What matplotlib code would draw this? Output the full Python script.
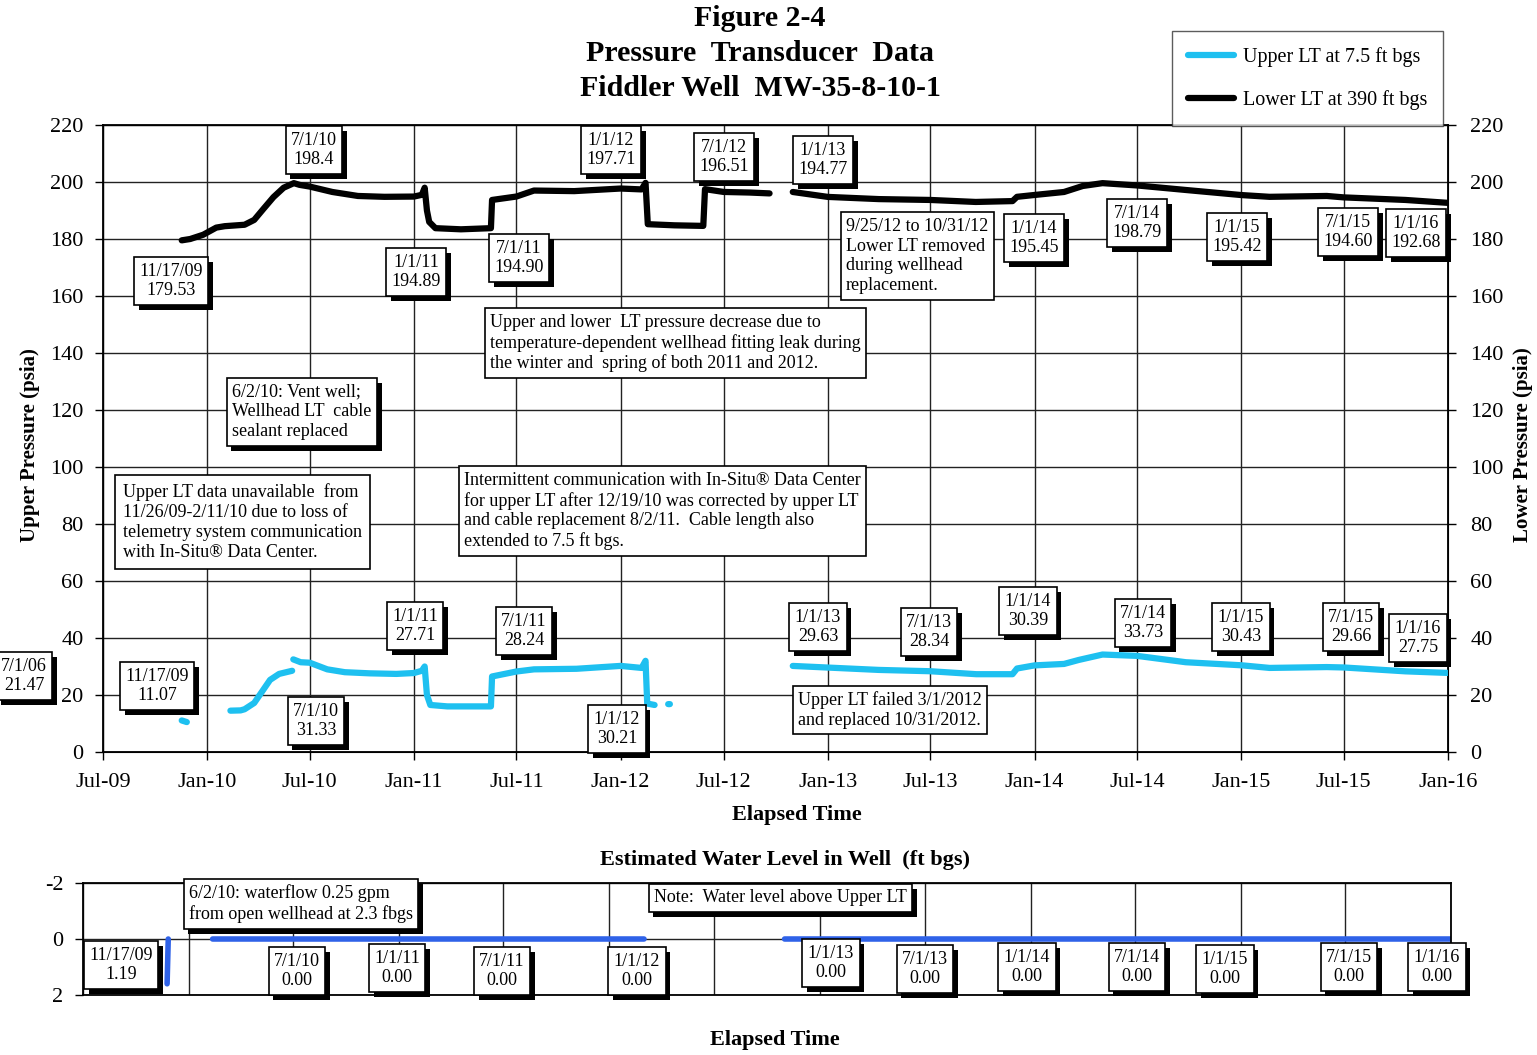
import numpy as np
import pandas as pd
import matplotlib
matplotlib.use("Agg")
import matplotlib.pyplot as plt
import matplotlib.dates as mdates
import matplotlib.patheffects as pe
from datetime import datetime

plt.rcParams['font.family'] = ['Liberation Serif', 'DejaVu Serif']
plt.rcParams['axes.unicode_minus'] = False

# lower LT (black, right axis), NaN = gap while removed 9/25/12-10/31/12
lower_dates = ['2009-11-17', '2009-12-02', '2009-12-25', '2010-01-17', '2010-02-01', '2010-03-08',
               '2010-03-25', '2010-04-10', '2010-04-28', '2010-05-16', '2010-06-03', '2010-06-13',
               '2010-07-01', '2010-08-10', '2010-09-24', '2010-11-10', '2011-01-01', '2011-01-15',
               '2011-01-20', '2011-01-24', '2011-01-28', '2011-02-08', '2011-03-25', '2011-05-17',
               '2011-05-19', '2011-07-01', '2011-08-01', '2011-10-11', '2012-01-01', '2012-02-07',
               '2012-02-14', '2012-02-18', '2012-04-05', '2012-05-26', '2012-05-29', '2012-07-01',
               '2012-08-16', '2012-09-20', '2012-10-15',
               '2012-10-31', '2013-01-01', '2013-04-01', '2013-07-01', '2013-09-19', '2013-11-23',
               '2013-12-01', '2014-01-01', '2014-02-22', '2014-03-27', '2014-05-01', '2014-07-01',
               '2014-09-25', '2015-01-01', '2015-02-20', '2015-06-01', '2015-07-01', '2015-10-18',
               '2016-01-01']
lower_vals = [179.53, 180.0, 181.5, 184.0, 184.5, 185.0,
              186.7, 190.5, 194.7, 198.0, 199.6, 199.0,
              198.4, 196.5, 195.1, 194.8, 194.89, 195.5,
              198.0, 190.0, 186.0, 183.8, 183.4, 183.8,
              193.7, 194.90, 197.0, 196.8, 197.71, 197.4,
              199.7, 185.2, 184.8, 184.6, 197.5, 196.51,
              196.3, 196.0, np.nan,
              196.5, 194.77, 194.0, 193.7, 193.0, 193.3,
              194.8, 195.45, 196.5, 198.6, 199.6, 198.79,
              197.2, 195.42, 194.8, 195.1, 194.60, 193.7,
              192.68]

# upper LT (cyan, left axis)
upper_dates = ['2009-11-17', '2009-11-26', '2010-01-15',
               '2010-02-11', '2010-03-01', '2010-03-08', '2010-03-25', '2010-04-22', '2010-05-08',
               '2010-05-31', '2010-06-01',
               '2010-06-02', '2010-06-15', '2010-07-01', '2010-08-01', '2010-09-01', '2010-10-15',
               '2010-12-01', '2011-01-01', '2011-01-15', '2011-01-20', '2011-01-24', '2011-01-30',
               '2011-03-01', '2011-05-17', '2011-05-19', '2011-07-01', '2011-08-01', '2011-10-15',
               '2012-01-01', '2012-02-07', '2012-02-14', '2012-02-17', '2012-03-01', '2012-03-10',
               '2012-03-25', '2012-03-28', '2012-06-01',
               '2012-10-31', '2013-01-01', '2013-04-01', '2013-07-01', '2013-09-20', '2013-11-23',
               '2013-12-01', '2014-01-01', '2014-02-22', '2014-03-20', '2014-05-01', '2014-07-01',
               '2014-09-25', '2015-01-01', '2015-02-20', '2015-06-01', '2015-07-01', '2015-10-18',
               '2016-01-01']
upper_vals = [11.07, 10.5, np.nan,
              14.5, 14.6, 15.0, 17.2, 25.3, 27.4,
              28.5, np.nan,
              32.5, 31.5, 31.33, 29.0, 28.0, 27.6,
              27.4, 27.71, 28.5, 30.0, 20.0, 16.5,
              16.0, 16.0, 26.5, 28.24, 29.0, 29.2,
              30.21, 29.5, 32.0, 17.0, 16.5, np.nan,
              16.8, 16.8, np.nan,
              30.2, 29.63, 28.8, 28.34, 27.3, 27.3,
              29.3, 30.39, 30.9, 32.3, 34.2, 33.73,
              31.5, 30.43, 29.5, 29.8, 29.66, 28.3,
              27.75]

# estimated water level (ft bgs)
wl_dates = ['2009-11-24', '2009-11-26', '2010-01-15', '2010-02-11', '2012-03-01', '2012-06-01',
            '2012-10-31', '2016-01-01']
wl_vals = [1.6, 0.0, np.nan, 0.0, 0.0, np.nan, 0.0, 0.0]

lower_dates = pd.to_datetime(lower_dates)
upper_dates = pd.to_datetime(upper_dates)
wl_dates = pd.to_datetime(wl_dates)

W, H = 1537, 1055
fig = plt.figure(figsize=(W / 100, H / 100), dpi=100)

cyan = '#1EC0F0'
blue = '#2F62E8'
xmin, xmax = datetime(2009, 7, 1), datetime(2016, 1, 1)


def style_axes(ax):
    ax.set_xlim(xmin, xmax)
    ax.xaxis.set_major_locator(mdates.MonthLocator(bymonth=[1, 7]))
    ax.xaxis.set_major_formatter(mdates.DateFormatter('%b-%y'))
    ax.grid(True, color='#222222', lw=1.0)
    for s in ax.spines.values():
        s.set_linewidth(1.3)
    ax.tick_params(direction='out', length=6, width=1.0, labelsize=16, pad=8)


# ---- top pressure chart
ax = fig.add_axes([103 / W, 1 - 752 / H, 1345 / W, 627 / H])
style_axes(ax)
ax.set_ylim(0, 220)
ax.set_yticks(range(0, 221, 20))
ax.tick_params(axis='x', pad=9)
l1, = ax.plot(upper_dates, upper_vals, color=cyan, lw=4.5, solid_capstyle='round', zorder=3)
ax.set_ylabel('Upper Pressure (psia)', fontsize=15, weight='bold')
ax.yaxis.set_label_coords(-0.047, 0.49)
ax.set_xlabel('Elapsed Time', fontsize=16, weight='bold')
ax.xaxis.set_label_coords(0.516, -0.085)

ax2 = ax.twinx()
ax2.set_ylim(0, 220)
ax2.set_yticks(range(0, 221, 20))
ax2.tick_params(direction='out', length=6, width=1.0, labelsize=16, pad=10)
l2, = ax2.plot(lower_dates, lower_vals, color='black', lw=4.5, solid_capstyle='round')
ax2.set_ylabel('Lower Pressure (psia)', fontsize=15, weight='bold', rotation=90)
ax2.yaxis.set_label_coords(1.048, 0.49)

leg = fig.legend([l1, l2], ['Upper LT at 7.5 ft bgs', 'Lower LT at 390 ft bgs'],
                 loc='upper right', bbox_to_anchor=(1443 / W, 1 - 31 / H), borderaxespad=0,
                 fontsize=14.5, handlelength=2.3, handletextpad=0.4, labelspacing=1.15,
                 borderpad=0.8, fancybox=False, edgecolor='#333333')
leg.get_frame().set_linewidth(1.0)

# ---- bottom water level chart
bx = fig.add_axes([83 / W, 1 - 995 / H, 1368 / W, 112 / H])
style_axes(bx)
bx.set_ylim(2, -2)
bx.set_yticks([-2, 0, 2])
bx.tick_params(axis='x', labelbottom=False, length=0)
bx.plot(wl_dates, wl_vals, color=blue, lw=4, solid_capstyle='round')

fig.text(760 / W, 1 - 5 / H, 'Figure 2-4\nPressure  Transducer  Data\nFiddler Well  MW-35-8-10-1',
         ha='center', va='top', fontsize=21.5, weight='bold', linespacing=1.38)
fig.text(785 / W, 1 - 860 / H, 'Estimated Water Level in Well  (ft bgs)', ha='center', va='center',
         fontsize=16, weight='bold')
fig.text(775 / W, 1 - 1040 / H, 'Elapsed Time', ha='center', va='center', fontsize=16, weight='bold')


def box(x, y, s, shadow=True, ha='center', size=13, pad=0.3):
    t = fig.text(x / W, 1 - y / H, s, ha=ha, va='center', fontsize=size, linespacing=1.22,
                 multialignment=ha,
                 bbox=dict(boxstyle='square,pad=%s' % pad, fc='white', ec='black', lw=1.2), zorder=10)
    if shadow:
        t.get_bbox_patch().set_path_effects(
            [pe.withSimplePatchShadow(offset=(3.5, -3.5), shadow_rgbFace='black', alpha=1.0)])
    return t


# lower LT callouts
box(171, 281, '11/17/09\n179.53')
box(314, 150, '7/1/10\n198.4')
box(416, 272, '1/1/11\n194.89')
box(519, 258, '7/1/11\n194.90')
box(611, 150, '1/1/12\n197.71')
box(724, 157, '7/1/12\n196.51')
box(823, 160, '1/1/13\n194.77')
box(1034, 238, '1/1/14\n195.45')
box(1137, 223, '7/1/14\n198.79')
box(1237, 237, '1/1/15\n195.42')
box(1348, 232, '7/1/15\n194.60')
box(1416, 233, '1/1/16\n192.68')

# upper LT callouts
box(24, 676, '7/1/06\n21.47')
box(157, 686, '11/17/09\n11.07')
box(316, 721, '7/1/10\n31.33')
box(415, 626, '1/1/11\n27.71')
box(524, 631, '7/1/11\n28.24')
box(617, 729, '1/1/12\n30.21')
box(818, 627, '1/1/13\n29.63')
box(929, 632, '7/1/13\n28.34')
box(1028, 611, '1/1/14\n30.39')
box(1143, 623, '7/1/14\n33.73')
box(1241, 627, '1/1/15\n30.43')
box(1351, 627, '7/1/15\n29.66')
box(1418, 638, '1/1/16\n27.75')

# notes
box(846, 256, '9/25/12 to 10/31/12\nLower LT removed\nduring wellhead\nreplacement.', shadow=False, ha='left')
box(490, 343, 'Upper and lower  LT pressure decrease due to\ntemperature-dependent wellhead fitting leak during\n'
    'the winter and  spring of both 2011 and 2012.', shadow=False, ha='left')
box(232, 412, '6/2/10: Vent well;\nWellhead LT  cable\nsealant replaced', ha='left')
box(123, 522, 'Upper LT data unavailable  from\n11/26/09-2/11/10 due to loss of\n'
    'telemetry system communication\nwith In-Situ® Data Center.', shadow=False, ha='left', pad=0.45)
box(464, 511, 'Intermittent communication with In-Situ® Data Center\nfor upper LT after 12/19/10 was corrected by upper LT\n'
    'and cable replacement 8/2/11.  Cable length also\nextended to 7.5 ft bgs.', shadow=False, ha='left')
box(798, 710, 'Upper LT failed 3/1/2012\nand replaced 10/31/2012.', shadow=False, ha='left')

# water level callouts
box(121, 965, '11/17/09\n1.19')
box(189, 904, '6/2/10: waterflow 0.25 gpm\nfrom open wellhead at 2.3 fbgs', ha='left')
box(654, 898, 'Note:  Water level above Upper LT', ha='left')
box(297, 971, '7/1/10\n0.00')
box(397, 968, '1/1/11\n0.00')
box(502, 971, '7/1/11\n0.00')
box(637, 971, '1/1/12\n0.00')
box(831, 963, '1/1/13\n0.00')
box(925, 969, '7/1/13\n0.00')
box(1027, 967, '1/1/14\n0.00')
box(1137, 967, '7/1/14\n0.00')
box(1225, 969, '1/1/15\n0.00')
box(1349, 967, '7/1/15\n0.00')
box(1437, 967, '1/1/16\n0.00')

fig.savefig('out.png', dpi=100)
